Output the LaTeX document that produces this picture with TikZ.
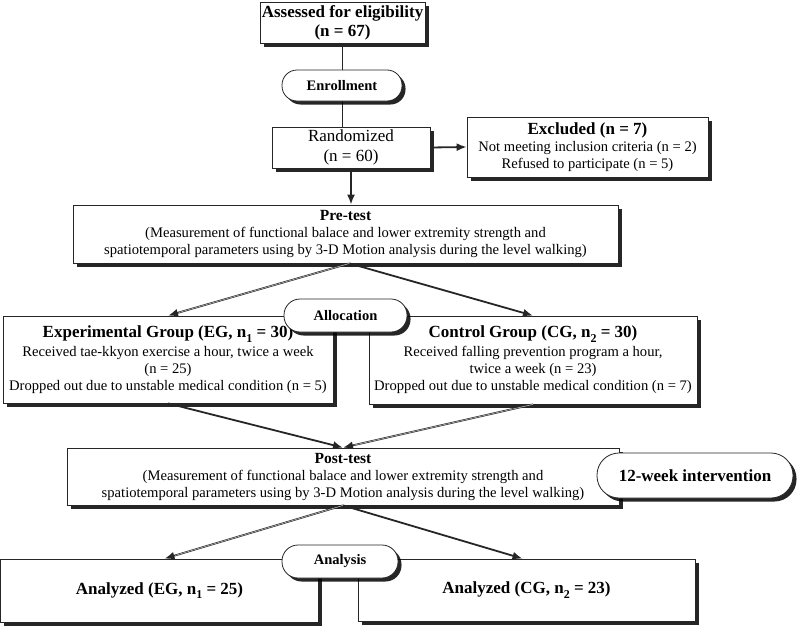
\documentclass[tikz,border=0pt]{standalone}
\usepackage{fontspec}
\setmainfont{Liberation Serif}
\usetikzlibrary{shadows,arrows.meta}
\newcommand\hdf{\fontsize{17}{19}\selectfont\bfseries}
\newcommand\txf{\fontsize{14.6}{17}\selectfont}
\newcommand\sbs[1]{\raisebox{-0.6ex}{\fontsize{12}{12}\selectfont #1}}
\tikzset{
  box/.style={draw=black!85, line width=0.8pt, fill=white, rectangle, inner sep=0pt,
    align=center, font=\txf,
    drop shadow={shadow xshift=3.5pt, shadow yshift=-3.5pt, fill=black, opacity=0.85}},
  pill/.style={box, font=\fontsize{14.5}{16.5}\selectfont\bfseries},
  conn/.style={draw=black!85, line width=1.8pt},
  arr/.style={conn, -{Latex[length=10pt,width=8pt]}},
  darr/.style={arr, postaction={draw=gray!55, line width=0.6pt, shorten >=11pt, -}},
}
\begin{document}
\begin{tikzpicture}[x=1pt,y=-1pt]
\useasboundingbox (0,0) rectangle (800,629);
% boxes
\node[box, minimum width=165pt, minimum height=41pt, font=\hdf] (assess) at (342.5,22.5)
  {Assessed for eligibility\\(n = 67)};
\node[box, minimum width=158pt, minimum height=41pt, font=\fontsize{17}{20}\selectfont] (rand) at (351,147.5)
  {Randomized\\(n = 60)};
\node[box, minimum width=241pt, minimum height=60pt] (excl) at (587.5,147)
  {{\hdf Excluded (n = 7)}\\Not meeting inclusion criteria (n = 2)\\Refused to participate (n = 5)};
\node[box, minimum width=545pt, minimum height=58pt] (pre) at (345.5,234)
  {{\fontsize{15.5}{17}\selectfont\bfseries Pre-test}\\(Measurement of functional balace and lower extremity strength and\\spatiotemporal parameters using by 3-D Motion analysis during the level walking)};
\node[box, minimum width=330pt, minimum height=87pt] (eg) at (168,359.5)
  {{\hdf Experimental Group (EG, n\sbs{1} = 30)}\\[2pt]Received tae-kkyon exercise a hour, twice a week\\(n = 25)\\Dropped out due to unstable medical condition (n = 5)};
\node[box, minimum width=328pt, minimum height=88pt] (cg) at (533,360)
  {{\hdf Control Group (CG, n\sbs{2} = 30)}\\[2pt]Received falling prevention program a hour,\\twice a week (n = 23)\\Dropped out due to unstable medical condition (n = 7)};
\node[box, minimum width=552pt, minimum height=57pt] (post) at (343,476.5)
  {{\fontsize{15.5}{17}\selectfont\bfseries Post-test}\\(Measurement of functional balace and lower extremity strength and\\spatiotemporal parameters using by 3-D Motion analysis during the level walking)};
\node[box, minimum width=318pt, minimum height=63pt, font=\hdf] (aeg) at (159.5,590.5)
  {Analyzed (EG, n\sbs{1} = 25)};
\node[box, minimum width=337pt, minimum height=62pt, font=\hdf] (acg) at (526.5,590)
  {Analyzed (CG, n\sbs{2} = 23)};
% connectors
\draw[conn] (assess.south) -- (assess.south |- rand.north);
\draw[arr] (rand.east) -- (excl.west);
\draw[arr] (rand.south) -- (rand.south |- pre.north);
\draw[darr] ([xshift=4pt]pre.south) -- (eg.north);
\draw[arr] ([xshift=4pt]pre.south) -- (cg.north);
\draw[arr] (eg.south) -- (post.north);
\draw[darr] (cg.south) -- (post.north);
\draw[darr] (post.south) -- ([xshift=5pt]aeg.north);
\draw[arr] (post.south) -- ([xshift=-4pt]acg.north);
% pills
\node[pill, minimum width=120pt, minimum height=31pt, rounded corners=15pt] (enroll) at (342,85.5) {Enrollment};
\node[pill, minimum width=123pt, minimum height=33pt, rounded corners=16pt] (alloc) at (345.5,315.5) {Allocation};
\node[pill, minimum width=196pt, minimum height=45pt, rounded corners=22pt, font=\hdf] (twelve) at (695,475.5) {12-week intervention};
\node[pill, minimum width=116pt, minimum height=33pt, rounded corners=16pt] (anal) at (340,561.5) {Analysis};
\end{tikzpicture}
\end{document}
